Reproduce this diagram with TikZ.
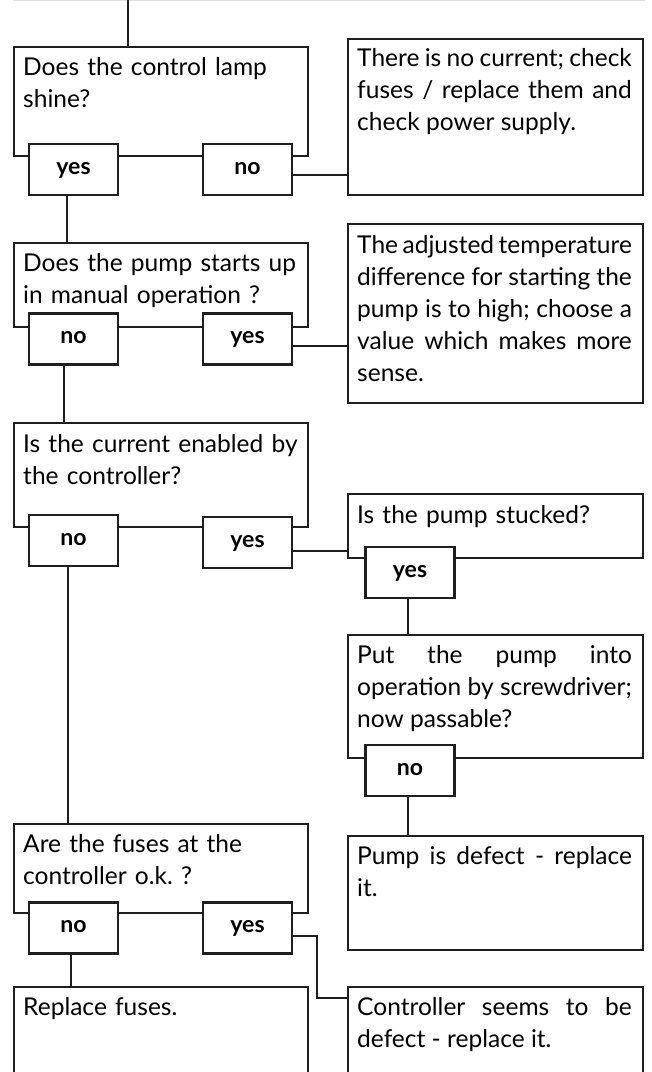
\documentclass[tikz,border=0pt]{standalone}
\usepackage{fontspec}
\setmainfont{Lato}
\usetikzlibrary{fit}
\frenchspacing
\tikzset{
  frame/.style={draw=black!88, line width=1.6pt, inner sep=0pt},
  choice/.style={draw=black!88, line width=1.6pt, fill=white, inner sep=0pt,
    minimum width=66.75pt, minimum height=38.25pt, text height=7pt, text depth=0pt,
    font=\bfseries\fontsize{17.3}{18}\selectfont},
  body/.style={inner sep=0pt, text width=206pt, anchor=base west,
    font=\fontsize{18.4}{24}\selectfont\frenchspacing},
  link/.style={draw=black!88, line width=1.6pt},
}
\begin{document}
\begin{tikzpicture}[x=0.75pt, y=-0.75pt]
\begin{scope}
\clip (0,0) rectangle (652,1072);
\draw[black!12, line width=1pt] (13,0.8) -- (645,0.8);

% main boxes (left column)
\node[frame, fit={(14,47)(308,156)}] (b1) {};
\node[frame, fit={(14,243)(308,327)}] (b2) {};
\node[frame, fit={(14,423)(308,527)}] (b3) {};
\node[frame, fit={(14,824)(308,913)}] (b4) {};
\node[frame, fit={(14,987)(308,1100)}] (b5) {};
% right column
\node[frame, fit={(348,39)(643,195)}] (r1) {};
\node[frame, fit={(348,224)(643,403)}] (r2) {};
\node[frame, fit={(348,494)(643,558)}] (r3) {};
\node[frame, fit={(348,635)(643,758)}] (r4) {};
\node[frame, fit={(348,836)(643,950)}] (r5) {};
\node[frame, fit={(348,987)(643,1100)}] (r6) {};

% texts
\node[body, align=left] (tb1) at ([shift={(10,30)}]b1.north west) {Does the control lamp\\shine?};
\node[body, align=left] (tb2) at ([shift={(10,30)}]b2.north west) {Does the pump starts up\\in manual operation ?};
\node[body, align=left] (tb3) at ([shift={(10,31)}]b3.north west) {Is the current enabled by\\the controller?};
\node[body, align=left] (tb4) at ([shift={(10,30)}]b4.north west) {Are the fuses at the\\controller o.k. ?};
\node[body, align=left] (tb5) at ([shift={(10,30)}]b5.north west) {Replace fuses.};
\node[body, align=justify] (tr1) at ([shift={(10,29)}]r1.north west) {There is no current; check\linebreak fuses / replace them and\linebreak check power supply.};
\node[body, align=justify] (tr2) at ([shift={(10,31)}]r2.north west) {The adjusted temperature\linebreak difference for starting the\linebreak pump is to high; choose a\linebreak value which makes more\linebreak sense.};
\node[body, align=left] (tr3) at ([shift={(10,31)}]r3.north west) {Is the pump stucked?};
\node[body, align=justify] (tr4) at ([shift={(10,30)}]r4.north west) {Put the pump into\linebreak operation by screwdriver;\linebreak now passable?};
\node[body, align=justify] (tr5) at ([shift={(10,30)}]r5.north west) {Pump is defect - replace\linebreak it.};
\node[body, align=justify] (tr6) at ([shift={(10,30)}]r6.north west) {Controller seems to be\linebreak defect - replace it.};

% answer boxes
\node[choice] (y1) at (73.5,169.5) {yes};
\node[choice] (n1) at (247.5,169.5) {no};
\node[choice] (n2) at (73.5,339) {no};
\node[choice] (y2) at (247.5,339) {yes};
\node[choice] (n3) at (73.5,540.5) {no};
\node[choice] (y3) at (247.5,542.5) {yes};
\node[choice] (y4) at (410,572.5) {yes};
\node[choice] (n4) at (410,770.5) {no};
\node[choice] (n5) at (73.5,928) {no};
\node[choice] (y5) at (247.5,928) {yes};

% connectors
\coordinate (top) at (128,0);
\draw[link] (top) -- (top |- b1.north);
\draw[link] (y1.south -| 67,0) -- (b2.north -| 67,0);
\draw[link] (n1.east |- 0,175) -- (r1.west |- 0,175);
\draw[link] (n2.south -| 64,0) -- (b3.north -| 64,0);
\draw[link] (y2.east |- 0,346) -- (r2.west |- 0,346);
\draw[link] (n3.south -| 68,0) -- (b4.north -| 68,0);
\draw[link] (y3.east |- 0,551) -- (r3.west |- 0,551);
\draw[link] (y4.south -| 408,0) -- (r4.north -| 408,0);
\draw[link] (n4.south -| 408,0) -- (r5.north -| 408,0);
\draw[link] (n5.south -| 71,0) -- (b5.north -| 71,0);
\draw[link] (y5.east |- 0,936) -| (317,998) -- (r6.west |- 0,998);
\end{scope}
\pgfresetboundingbox
\path[use as bounding box] (0,0) rectangle (652,1072);
\end{tikzpicture}
\end{document}
